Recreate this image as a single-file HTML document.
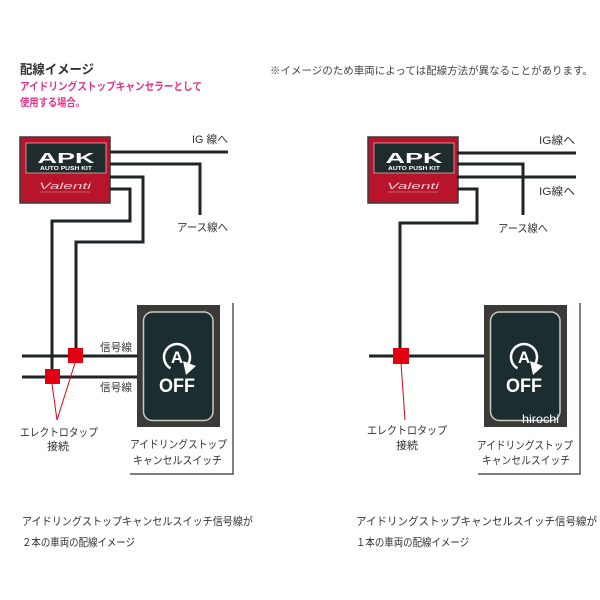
<!DOCTYPE html>
<html><head><meta charset="utf-8"><style>
html,body{margin:0;padding:0;background:#fff;}
svg{display:block;}
text{font-family:"Liberation Sans","Noto Sans CJK JP",sans-serif;}
</style></head><body>
<svg width="600" height="600" viewBox="0 0 600 600" xmlns="http://www.w3.org/2000/svg">
<rect width="600" height="600" fill="#fff"/>
<!-- header -->
<text x="20" y="74" font-size="13" font-weight="bold" fill="#333" textLength="74" lengthAdjust="spacingAndGlyphs">配線イメージ</text>
<text x="20" y="90" font-size="11" font-weight="bold" fill="#e3358c" textLength="182" lengthAdjust="spacingAndGlyphs">アイドリングストップキャンセラーとして</text>
<text x="20" y="106" font-size="11" font-weight="bold" fill="#e3358c" textLength="65" lengthAdjust="spacingAndGlyphs">使用する場合。</text>
<text x="270" y="74" font-size="10.5" fill="#444" textLength="323" lengthAdjust="spacingAndGlyphs">※イメージのため車両によっては配線方法が異なることがあります。</text>

<!-- ============ LEFT DIAGRAM ============ -->
<g id="apkL">
<rect x="20" y="137" width="90" height="66" fill="#b8152c" stroke="#3a3a3a" stroke-width="1.5"/>
<rect x="26" y="143" width="80" height="30" fill="#1f2c2e" stroke="#e4a9b2" stroke-width="0.8"/>
<text x="66" y="163" font-size="15" font-weight="bold" fill="#fff" text-anchor="middle" textLength="57" lengthAdjust="spacingAndGlyphs">APK</text>
<text x="66" y="170" font-size="5" font-weight="bold" fill="#fff" text-anchor="middle" textLength="52" lengthAdjust="spacingAndGlyphs">AUTO PUSH KIT</text>
<text x="65" y="189" font-size="9" font-style="italic" font-family="Liberation Serif,serif" fill="#f0c8cf" text-anchor="middle" textLength="52" lengthAdjust="spacingAndGlyphs">Valenti</text>
<line x1="40" y1="192" x2="90" y2="192" stroke="#e8a0aa" stroke-width="0.5"/>
</g>
<g fill="none" stroke="#1f2526" stroke-width="3">
<polyline points="110,152 228,152"/>
<polyline points="110,164 200,164 200,215"/>
<polyline points="110,177 143,177 143,242 76,242 76,356"/>
<polyline points="110,189 130,189 130,221 52,221 52,377"/>
<line x1="22" y1="356" x2="138" y2="356"/>
<line x1="22" y1="377" x2="138" y2="377"/>
</g>
<text x="192" y="143" font-size="11" fill="#333" textLength="36" lengthAdjust="spacingAndGlyphs">IG 線へ</text>
<text x="177" y="231" font-size="11" fill="#333" textLength="51" lengthAdjust="spacingAndGlyphs">アース線へ</text>
<text x="100" y="351" font-size="11" fill="#333" textLength="32" lengthAdjust="spacingAndGlyphs">信号線</text>
<text x="100" y="391" font-size="11" fill="#333" textLength="32" lengthAdjust="spacingAndGlyphs">信号線</text>
<rect x="68" y="348" width="15" height="15" fill="#e00012"/>
<rect x="45" y="369" width="15" height="15" fill="#e00012"/>
<polyline points="75,363 57,420 52,384" fill="none" stroke="#e00012" stroke-width="1"/>
<text x="20" y="436" font-size="11" fill="#333" textLength="78" lengthAdjust="spacingAndGlyphs">エレクトロタップ</text>
<text x="58" y="450" font-size="11" fill="#333" text-anchor="middle" textLength="22" lengthAdjust="spacingAndGlyphs">接続</text>
<!-- switch left -->
<g id="swL">
<rect x="137" y="305" width="83" height="122" fill="#3b3a37"/>
<rect x="143.5" y="312" width="69.5" height="108.5" rx="9" fill="#1c2d30" stroke="#c9c9c6" stroke-width="1.5"/>
<path d="M170.5,368.3 A13,13 0 1 1 188.3,363.5" fill="none" stroke="#fff" stroke-width="2.5"/>
<polygon points="183,361 186,375 196,366" fill="#fff"/>
<text x="177" y="363" font-size="17" font-weight="bold" fill="#fff" text-anchor="middle">A</text>
<text x="177" y="392" font-size="19" font-weight="bold" fill="#fff" text-anchor="middle" textLength="36" lengthAdjust="spacingAndGlyphs">OFF</text>
</g>
<polyline points="233,303 233,474 130,474" fill="none" stroke="#555" stroke-width="1.5"/>
<text x="130" y="448" font-size="11" fill="#333" textLength="97" lengthAdjust="spacingAndGlyphs">アイドリングストップ</text>
<text x="133" y="464" font-size="11" fill="#333" textLength="89" lengthAdjust="spacingAndGlyphs">キャンセルスイッチ</text>

<!-- ============ RIGHT DIAGRAM ============ -->
<g transform="translate(348,0)">
<rect x="20" y="137" width="90" height="66" fill="#b8152c" stroke="#3a3a3a" stroke-width="1.5"/>
<rect x="26" y="143" width="80" height="30" fill="#1f2c2e" stroke="#e4a9b2" stroke-width="0.8"/>
<text x="66" y="163" font-size="15" font-weight="bold" fill="#fff" text-anchor="middle" textLength="57" lengthAdjust="spacingAndGlyphs">APK</text>
<text x="66" y="170" font-size="5" font-weight="bold" fill="#fff" text-anchor="middle" textLength="52" lengthAdjust="spacingAndGlyphs">AUTO PUSH KIT</text>
<text x="65" y="189" font-size="9" font-style="italic" font-family="Liberation Serif,serif" fill="#f0c8cf" text-anchor="middle" textLength="52" lengthAdjust="spacingAndGlyphs">Valenti</text>
<line x1="40" y1="192" x2="90" y2="192" stroke="#e8a0aa" stroke-width="0.5"/>
</g>
<g fill="none" stroke="#1f2526" stroke-width="3">
<polyline points="457,153 576,153"/>
<polyline points="457,164 523,164 523,215"/>
<polyline points="457,177 576,177"/>
<polyline points="457,189 477,189 477,223 400,223 400,356"/>
<line x1="369" y1="356" x2="485" y2="356"/>
</g>
<text x="539" y="144" font-size="11" fill="#333" textLength="36" lengthAdjust="spacingAndGlyphs">IG線へ</text>
<text x="539" y="195" font-size="11" fill="#333" textLength="36" lengthAdjust="spacingAndGlyphs">IG線へ</text>
<text x="498" y="232" font-size="11" fill="#333" textLength="50" lengthAdjust="spacingAndGlyphs">アース線へ</text>
<rect x="393" y="348" width="16" height="16" fill="#e00012"/>
<line x1="401" y1="363" x2="405" y2="420" stroke="#e00012" stroke-width="1"/>
<text x="367" y="434" font-size="11" fill="#333" textLength="80" lengthAdjust="spacingAndGlyphs">エレクトロタップ</text>
<text x="407" y="449" font-size="11" fill="#333" text-anchor="middle" textLength="22" lengthAdjust="spacingAndGlyphs">接続</text>
<g transform="translate(347,0)">
<rect x="137" y="305" width="83" height="122" fill="#3b3a37"/>
<rect x="143.5" y="312" width="69.5" height="108.5" rx="9" fill="#1c2d30" stroke="#c9c9c6" stroke-width="1.5"/>
<path d="M170.5,368.3 A13,13 0 1 1 188.3,363.5" fill="none" stroke="#fff" stroke-width="2.5"/>
<polygon points="183,361 186,375 196,366" fill="#fff"/>
<text x="177" y="363" font-size="17" font-weight="bold" fill="#fff" text-anchor="middle">A</text>
<text x="177" y="392" font-size="19" font-weight="bold" fill="#fff" text-anchor="middle" textLength="36" lengthAdjust="spacingAndGlyphs">OFF</text>
</g>
<text x="522" y="423" font-size="12" fill="#fff" textLength="37" lengthAdjust="spacingAndGlyphs">hirochi</text>
<polyline points="580,303 580,474 478,474" fill="none" stroke="#555" stroke-width="1.5"/>
<text x="477" y="449" font-size="11" fill="#333" textLength="96" lengthAdjust="spacingAndGlyphs">アイドリングストップ</text>
<text x="482" y="464" font-size="11" fill="#333" textLength="88" lengthAdjust="spacingAndGlyphs">キャンセルスイッチ</text>

<!-- bottom captions -->
<text x="22" y="525" font-size="11" fill="#333" textLength="231" lengthAdjust="spacingAndGlyphs">アイドリングストップキャンセルスイッチ信号線が</text>
<text x="22" y="546" font-size="11" fill="#333" textLength="113" lengthAdjust="spacingAndGlyphs">２本の車両の配線イメージ</text>
<text x="356" y="525" font-size="11" fill="#333" textLength="241" lengthAdjust="spacingAndGlyphs">アイドリングストップキャンセルスイッチ信号線が</text>
<text x="356" y="546" font-size="11" fill="#333" textLength="113" lengthAdjust="spacingAndGlyphs">１本の車両の配線イメージ</text>
</svg>
</body></html>
